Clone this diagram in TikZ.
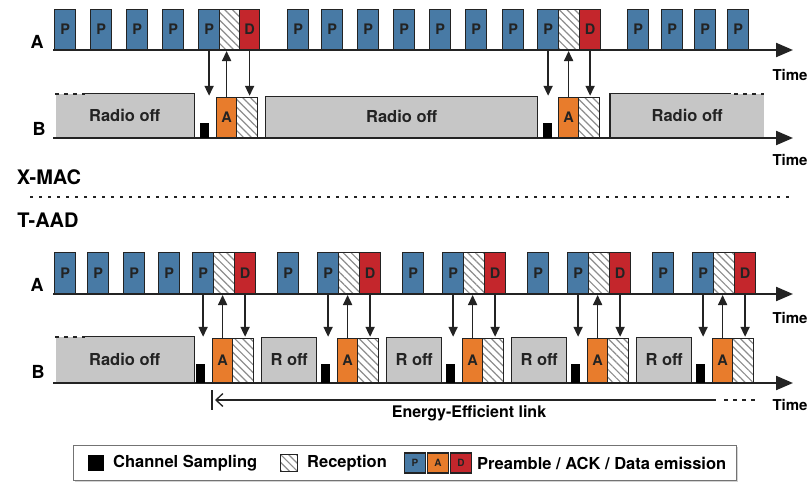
\documentclass[tikz,border=0pt]{standalone}
\usepackage{fontspec}
\setmainfont{TeX Gyre Heros}
\usetikzlibrary{arrows.meta,patterns.meta,shadows}

\definecolor{pblue}{RGB}{72,122,165}
\definecolor{dred}{RGB}{196,38,44}
\definecolor{aorange}{RGB}{232,124,44}
\definecolor{offgray}{RGB}{198,198,198}
\definecolor{edge}{RGB}{35,35,35}

\begin{document}
\begin{tikzpicture}[x=1pt, y=-1pt,
    slot/.style={draw=edge, line width=1.2pt, minimum width=21pt, minimum height=40pt, inner sep=0pt,
        anchor=south west, text=edge, font=\fontsize{14.5}{14.5}\selectfont\bfseries},
    pbox/.style={slot, fill=pblue},
    dbox/.style={slot, fill=dred},
    abox/.style={slot, fill=aorange},
    rxbox/.style={slot, pattern={Lines[angle=-45, distance=5.5pt, line width=1.2pt]}, pattern color=black!45},
    offbox/.style={draw=edge, fill=offgray, line width=1.2pt, minimum height=43pt, inner sep=0pt,
        anchor=south west, text=edge, font=\fontsize{16.5}{17}\selectfont\bfseries},
    sample/.style={fill=black, minimum width=9pt, minimum height=16pt, inner sep=0pt, anchor=south west},
    axis/.style={draw=edge, line width=2.2pt, -{Triangle[length=17pt, width=14pt]}},
    msg/.style={draw=edge, line width=1.7pt, -{Triangle[length=10pt, width=9pt]}, shorten >=1pt},
    dots/.style={draw=edge, line width=1.5pt, dash pattern=on 4pt off 5pt},
    rowlbl/.style={font=\fontsize{18}{18}\selectfont\bfseries},
    seclbl/.style={font=\fontsize{20}{20}\selectfont\bfseries},
    tlbl/.style={font=\fontsize{15}{15}\selectfont\bfseries},
    legtext/.style={anchor=west, inner sep=0pt, font=\fontsize{16.5}{16.5}\selectfont\bfseries}]

    \useasboundingbox (0,0) rectangle (809,485);

    % Axes
    \draw[axis] (53,50) -- (793,50);
    \draw[axis] (53,138) -- (793,138);
    \draw[axis] (53,294) -- (793,294);
    \draw[axis] (53,383) -- (793,383);

    \node[rowlbl] (xA) at (37,42) {A};
    \node[rowlbl] (xB) at (39,129) {B};
    \node[rowlbl] (tA) at (37,285) {A};
    \node[rowlbl] (tB) at (38,372) {B};
    \node[tlbl] (time1) at (790,75) {Time};
    \node[tlbl] (time2) at (790,160) {Time};
    \node[tlbl] (time3) at (790,318) {Time};
    \node[tlbl] (time4) at (790,405) {Time};

    % X-MAC, sender A
    \foreach \x [count=\i] in {54,90,126,162,198,287,321,357,393,429,465,502,537,627,661,694,727}
        \node[pbox] (xp\i) at (\x,50) {P};
    \node[rxbox, minimum width=20pt] (xr1) at (219,50) {};
    \node[dbox, minimum width=20pt] (xd1) at (239,50) {D};
    \node[rxbox, minimum width=21pt] (xr2) at (558,50) {};
    \node[dbox, minimum width=21pt] (xd2) at (579,50) {D};

    % X-MAC, receiver B
    \node[offbox, draw=none, minimum width=138pt] (xoff1) at (55,138) {Radio off};
    \draw[dots] (xoff1.north west) -- ([xshift=30pt]xoff1.north west);
    \draw[draw=edge, line width=1.2pt] ([xshift=30pt]xoff1.north west) -- (xoff1.north east) -- (xoff1.south east);
    \node[sample, minimum height=15pt] (xs1) at (200,138) {};
    \node[abox, minimum width=20pt] (xa1) at (216,138) {A};
    \node[rxbox] (xb1) at (236,138) {};
    \node[offbox, minimum width=272pt, minimum height=41pt] (xoff2) at (265,138) {Radio off};
    \node[sample, minimum height=15pt] (xs2) at (543,138) {};
    \node[abox, minimum width=20pt] (xa2) at (558,138) {A};
    \node[rxbox] (xb2) at (578,138) {};
    \node[offbox, draw=none, minimum width=153pt] (xoff3) at (610,138) {Radio off};
    \draw[draw=edge, line width=1.2pt] (xoff3.south west) -- (xoff3.north west) -- ([xshift=-33pt]xoff3.north east);
    \draw[dots] ([xshift=-30pt]xoff3.north east) -- (xoff3.north east);

    \foreach \i/\j in {5/1, 13/2} {
        \draw[msg] (xp\i.south) -- (xp\i.south |- xa\j.north);
        \draw[msg] (xa\j.north) -- (xa\j.north |- xr\j.south);
        \draw[msg] (xd\j.south) -- (xd\j.south |- xb\j.north);
    }

    % Separator
    \node[seclbl] (xmac) at (49,177) {X-MAC};
    \node[seclbl] (taad) at (48,220) {T-AAD};
    \draw[draw=edge, line width=2pt, dash pattern=on 3pt off 6pt] (30,197) -- (790,197);

    % T-AAD, sender A and receiver B
    \foreach \x [count=\i] in {54,87,123,158}
        \node[pbox, minimum height=41pt] (tq0\i) at (\x,294) {P};
    \node[offbox, draw=none, minimum width=138pt, minimum height=45pt] (toff0) at (55,383) {Radio off};
    \draw[dots] (toff0.north west) -- ([xshift=30pt]toff0.north west);
    \draw[draw=edge, line width=1.2pt] ([xshift=30pt]toff0.north west) -- (toff0.north east) -- (toff0.south east);

    \foreach \k in {0,...,4} {
        \pgfmathsetmacro\a{212+125*\k}
        \ifnum\k>0
            \node[pbox, minimum height=41pt] (tq\k) at (\a-60,294) {P};
            \node[offbox, minimum width=55pt, minimum height=45pt] (toff\k) at (\a-76,383) {R off};
        \fi
        \node[pbox, minimum height=41pt] (tp\k) at (\a-20,294) {P};
        \node[rxbox, minimum height=41pt] (tr\k) at (\a+1,294) {};
        \node[dbox, minimum height=41pt] (td\k) at (\a+22,294) {D};
        \node[sample, minimum height=19pt] (ts\k) at (\a-16,383) {};
        \node[abox, minimum width=20pt, minimum height=44pt] (ta\k) at (\a,383) {A};
        \node[rxbox, minimum height=44pt] (tb\k) at (\a+20,383) {};
        \draw[msg] (tp\k.south) -- (tp\k.south |- ta\k.north);
        \draw[msg] (ta\k.north) -- (ta\k.north |- tr\k.south);
        \draw[msg] (td\k.south) -- (td\k.south |- tb\k.north);
    }

    % Energy-efficient link
    \coordinate (linkL) at (212,400);
    \coordinate (linkR) at (716,400);
    \coordinate (linkD) at (756,400);
    \draw[draw=edge, line width=1.3pt] ([yshift=10pt]linkL) -- ([yshift=-10pt]linkL);
    \draw[draw=edge, line width=1.3pt, {Straight Barb[length=7pt, width=13pt]}-] ([xshift=3pt]linkL) -- (linkR);
    \draw[dots, line width=1.3pt] ([xshift=8pt]linkR) -- (linkD);
    \node[tlbl, font=\fontsize{16}{16}\selectfont\bfseries] (linklbl) at (469,413) {Energy-Efficient link};

    % Legend
    \node[draw=black!55, fill=white, line width=1pt, minimum width=663pt, minimum height=35pt, inner sep=0pt,
        drop shadow={shadow xshift=1.5pt, shadow yshift=-1.5pt, opacity=.35}] (legend) at (404.5,462.5) {};
    \node[fill=black, minimum size=16pt, inner sep=0pt] (lgsample) at (96,463) {};
    \node[legtext] (lgsamplet) at (113,463) {Channel Sampling};
    \node[rxbox, anchor=center, minimum width=17pt, minimum height=17pt] (lgrx) at (289,463) {};
    \node[legtext] (lgrxt) at (307,463) {Reception};
    \node[pbox, anchor=center, minimum width=21pt, minimum height=20pt, font=\fontsize{10}{10}\selectfont\bfseries] (lgp) at (415,463) {P};
    \node[abox, anchor=center, minimum width=21pt, minimum height=20pt, font=\fontsize{10}{10}\selectfont\bfseries] (lga) at (438,463) {A};
    \node[dbox, anchor=center, minimum width=21pt, minimum height=20pt, font=\fontsize{10}{10}\selectfont\bfseries] (lgd) at (461,463) {D};
    \node[legtext] (lgpadt) at (477,463) {Preamble / ACK / Data emission};
\end{tikzpicture}
\end{document}
